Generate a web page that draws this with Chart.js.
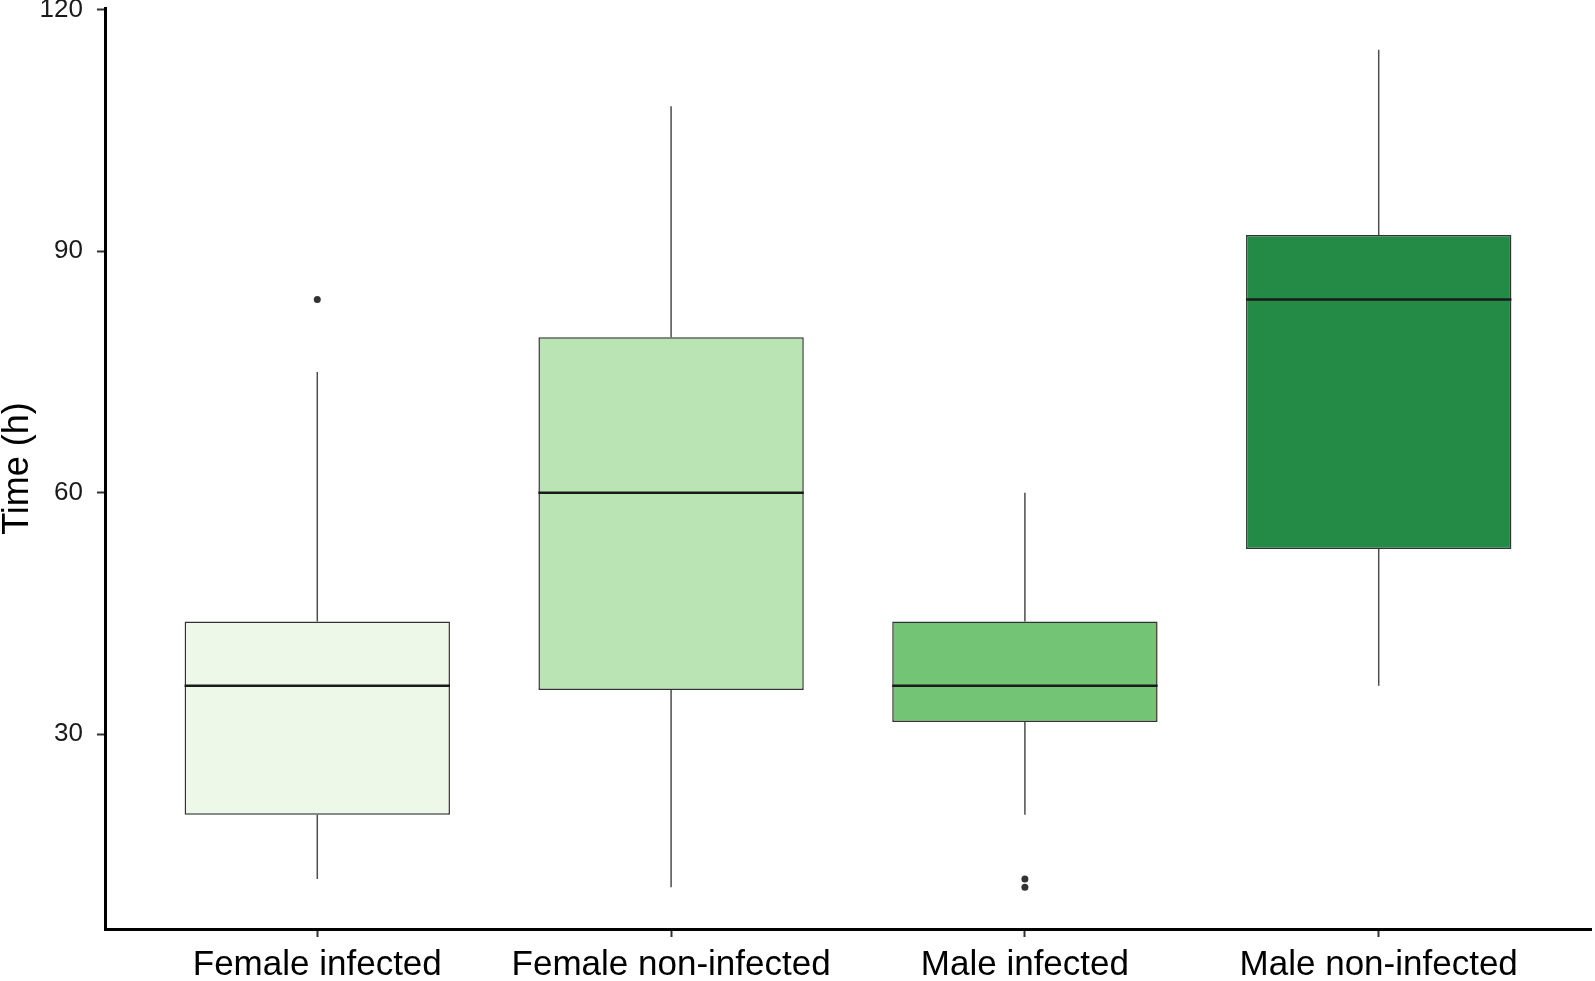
<!DOCTYPE html>
<html><head><meta charset="utf-8">
<script src="https://cdn.jsdelivr.net/npm/chart.js@4.4.0/dist/chart.umd.min.js"></script>
<style>html,body{margin:0;padding:0;background:#fff;} canvas{display:block;}</style>
</head><body>
<canvas id="c" width="1595" height="981"></canvas>
<script>
const categories = ['Female infected', 'Female non-infected', 'Male infected', 'Male non-infected'];
const whiskerLow = [12, 11, 20, 36];
const q1 = [20, 35.5, 31.5, 53];
const median = [36, 60, 36, 84];
const q3 = [44, 79.3, 44, 92];
const whiskerHigh = [75, 108, 60, 115];
const outliers = [[84], [], [12, 11], []];
const yTicks = [30, 60, 90, 120];
const fillColors = ['#EDF8E9', '#BAE4B3', '#74C476', '#238B45'];

const FONT = '"Liberation Sans", Arial, sans-serif';

const boxData = categories.map((c, i) => ({ x: i + 1, y: [q1[i], q3[i]] }));
const outlierData = [];
outliers.forEach((arr, i) => arr.forEach(v => outlierData.push({ x: i + 1, y: v })));

const boxParts = {
  id: 'boxParts',
  beforeDatasetsDraw(chart) {
    const meta = chart.getDatasetMeta(0);
    const y = chart.scales.y;
    const ctx = chart.ctx;
    ctx.save();
    ctx.strokeStyle = '#4d4d4d';
    ctx.lineWidth = 1.5;
    meta.data.forEach((el, i) => {
      ctx.beginPath();
      ctx.moveTo(el.x, y.getPixelForValue(q3[i]));
      ctx.lineTo(el.x, y.getPixelForValue(whiskerHigh[i]));
      ctx.moveTo(el.x, y.getPixelForValue(q1[i]));
      ctx.lineTo(el.x, y.getPixelForValue(whiskerLow[i]));
      ctx.stroke();
    });
    ctx.restore();
  },
  afterDatasetsDraw(chart) {
    const meta = chart.getDatasetMeta(0);
    const y = chart.scales.y;
    const ctx = chart.ctx;
    ctx.save();
    ctx.strokeStyle = '#1a1a1a';
    ctx.lineWidth = 2.5;
    meta.data.forEach((el, i) => {
      const py = y.getPixelForValue(median[i]);
      ctx.beginPath();
      ctx.moveTo(el.x - el.width / 2, py);
      ctx.lineTo(el.x + el.width / 2, py);
      ctx.stroke();
    });
    ctx.restore();
  }
};

new Chart(document.getElementById('c'), {
  type: 'bar',
  data: {
    datasets: [
      {
        type: 'bar',
        data: boxData,
        backgroundColor: fillColors,
        borderColor: '#333333',
        borderWidth: 1.5,
        borderSkipped: false,
        barPercentage: 0.75,
        categoryPercentage: 1.0,
        order: 2
      },
      {
        type: 'scatter',
        data: outlierData,
        pointRadius: 3.5,
        pointBackgroundColor: '#333333',
        pointBorderWidth: 0,
        showLine: false,
        order: 1
      }
    ]
  },
  options: {
    responsive: false,
    animation: false,
    devicePixelRatio: 1,
    layout: { padding: { top: 8, right: 3, left: 0, bottom: 0 } },
    plugins: { legend: { display: false }, tooltip: { enabled: false } },
    scales: {
      x: {
        type: 'linear',
        min: 0.4,
        max: 4.6,
        offset: false,
        grid: { display: true, drawOnChartArea: false, drawTicks: true, tickLength: 8, tickColor: '#333333', tickWidth: 2, offset: false },
        border: { display: true, color: '#000000', width: 3 },
        afterBuildTicks(scale) { scale.ticks = categories.map((c, i) => ({ value: i + 1 })); },
        afterFit(scale) { scale.height = 52; scale.paddingLeft = 0; scale.paddingRight = 0; },
        ticks: {
          autoSkip: false,
          maxRotation: 0,
          padding: 7,
          color: '#000000',
          font: { family: FONT, size: 35 },
          callback: (v) => categories[Math.round(v) - 1] || ''
        }
      },
      y: {
        type: 'linear',
        min: 5.8,
        max: 120.2,
        grid: { display: true, drawOnChartArea: false, drawTicks: true, tickLength: 8, tickColor: '#333333', tickWidth: 2 },
        border: { display: true, color: '#000000', width: 3 },
        afterBuildTicks(scale) { scale.ticks = yTicks.map(v => ({ value: v })); },
        afterFit(scale) { scale.width = 105; scale.paddingTop = 0; scale.paddingBottom = 0; },
        ticks: {
          padding: 14,
          color: '#1a1a1a',
          font: { family: FONT, size: 26 },
          callback: (v) => String(v)
        },
        title: {
          display: true,
          text: 'Time (h)',
          color: '#000000',
          padding: { top: 0, bottom: 0 },
          font: { family: FONT, size: 36, lineHeight: 1 }
        }
      }
    }
  },
  plugins: [boxParts]
});
</script>
</body></html>
